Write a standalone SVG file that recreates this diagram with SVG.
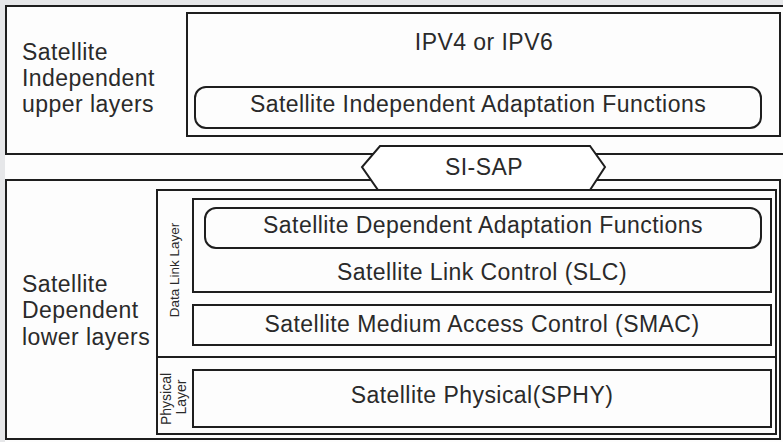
<svg xmlns="http://www.w3.org/2000/svg" width="783" height="442" viewBox="0 0 783 442">
<style>
.bx{fill:none;stroke:#1e1e1e;stroke-width:2}
.wb{fill:#fff;stroke:#1e1e1e;stroke-width:2}
.t{font-family:"Liberation Sans",Arial,sans-serif;font-size:23px;letter-spacing:0.45px;fill:#2a2a2a}
.c{text-anchor:middle}
.s{font-family:"Liberation Sans",Arial,sans-serif;font-size:13.5px;fill:#2a2a2a;text-anchor:middle}
.p{font-size:14px}
</style>
<rect width="783" height="442" fill="#e6e7e9"/>
<rect x="5" y="6" width="778" height="436" fill="#fdfdfd"/>
<g id="upper">
<rect class="bx" x="6" y="6" width="790" height="148"/>
<text class="t" x="22" y="60">Satellite</text>
<text class="t" x="22" y="86">Independent</text>
<text class="t" x="22" y="112">upper layers</text>
</g>
<g id="ip">
<rect class="bx" x="187" y="13" width="593" height="123"/>
<text class="t c" x="484" y="50">IPV4 or IPV6</text>
</g>
<g id="siaf">
<rect class="bx" x="195" y="87" width="566" height="41" rx="11"/>
<text class="t c" x="478" y="112">Satellite Independent Adaptation Functions</text>
</g>
<g id="lower">
<rect class="bx" x="6" y="180" width="774" height="259"/>
<text class="t" x="22" y="292">Satellite</text>
<text class="t" x="22" y="318">Dependent</text>
<text class="t" x="22" y="345">lower layers</text>
</g>
<g id="sisap">
<polygon class="wb" points="380,146 590,146 605,167 590,190 378,190 362,167"/>
<text class="t c" x="484" y="175">SI-SAP</text>
</g>
<g id="layers">
<rect class="bx" x="157" y="190" width="619" height="244"/>
<line class="bx" x1="157" y1="357" x2="776" y2="357"/>
<text class="s" transform="translate(179,270) rotate(-90)">Data Link Layer</text>
<text class="s p" transform="translate(171,399) rotate(-90)">Physical</text>
<text class="s p" transform="translate(186,397) rotate(-90)">Layer</text>
</g>
<g id="slc">
<rect class="bx" x="193" y="199" width="578" height="93"/>
<text class="t c" x="482" y="280">Satellite Link Control (SLC)</text>
</g>
<g id="sdaf">
<rect class="bx" x="205" y="208" width="556" height="40" rx="11"/>
<text class="t c" x="483" y="233">Satellite Dependent Adaptation Functions</text>
</g>
<g id="smac">
<rect class="bx" x="193" y="305" width="578" height="40"/>
<text class="t c" x="482" y="332">Satellite Medium Access Control (SMAC)</text>
</g>
<g id="sphy">
<rect class="bx" x="193" y="370" width="578" height="57"/>
<text class="t c" x="482" y="403">Satellite Physical(SPHY)</text>
</g>
<g id="connectors"></g>
</svg>
